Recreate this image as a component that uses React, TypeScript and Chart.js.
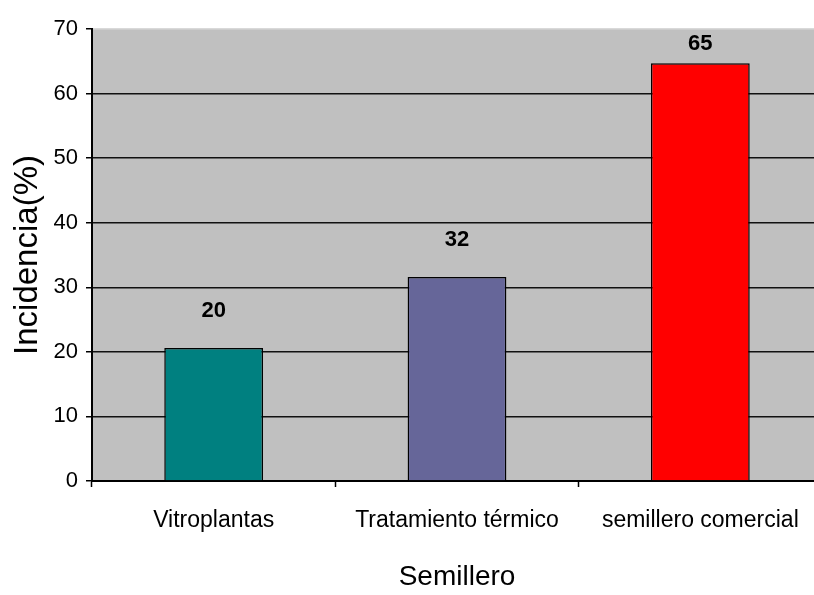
import React, { useEffect, useRef } from "react";
import { Chart, registerables } from "chart.js";

Chart.register(...registerables);

const categories = ["Vitroplantas", "Tratamiento térmico", "semillero comercial"];
const incidence = [20.6, 31.6, 64.7];
const valueLabels = ["20", "32", "65"];
const barColors = ["#008080", "#666699", "#FF0000"];
const yTicks = [0, 10, 20, 30, 40, 50, 60, 70];

const FONT = "'Liberation Sans', Arial, sans-serif";

const bgPlugin = {
  id: "plotBg",
  beforeDraw(chart: any) {
    const { ctx, chartArea } = chart;
    ctx.save();
    ctx.fillStyle = "#C0C0C0";
    ctx.fillRect(chartArea.left, chartArea.top, chartArea.right - chartArea.left, chartArea.bottom - chartArea.top);
    ctx.restore();
  },
};

const labelPlugin = {
  id: "valueLabels",
  afterDatasetsDraw(chart: any) {
    const { ctx } = chart;
    const meta = chart.getDatasetMeta(0);
    ctx.save();
    ctx.font = `bold 22px ${FONT}`;
    ctx.fillStyle = "#000";
    ctx.textAlign = "center";
    ctx.textBaseline = "middle";
    meta.data.forEach((bar: any, i: number) => {
      const y = Math.max(bar.y - 37, 44);
      ctx.fillText(valueLabels[i], bar.x, y);
    });
    ctx.restore();
  },
};

export default function App() {
  const ref = useRef<HTMLCanvasElement>(null);
  useEffect(() => {
    if (!ref.current) return;
    const chart = new Chart(ref.current, {
      type: "bar",
      data: {
        labels: categories,
        datasets: [
          {
            data: incidence,
            backgroundColor: barColors,
            borderColor: "#000",
            borderWidth: 1.5,
            categoryPercentage: 1,
            barPercentage: 0.406,
          },
        ],
      },
      options: {
        responsive: false,
        animation: false,
        layout: { padding: { top: 29, right: 8, left: 0, bottom: 0 } },
        plugins: { legend: { display: false }, tooltip: { enabled: false } },
        scales: {
          x: {
            offset: true,
            grid: {
              offset: true,
              drawOnChartArea: false,
              drawTicks: true,
              tickLength: 6,
              tickColor: "#000",
              tickWidth: 1.5,
            },
            border: { color: "#000", width: 2 },
            ticks: {
              color: "#000",
              font: { family: FONT, size: 23 },
              padding: 20,
              maxRotation: 0,
            },
            title: {
              display: true,
              text: "Semillero",
              color: "#000",
              font: { family: FONT, size: 28 },
              padding: { top: 0, bottom: 1 },
            },
            afterFit(scale: any) {
              scale.height = 595 - 481;
            },
          },
          y: {
            min: 0,
            max: 70,
            afterBuildTicks(scale: any) {
              scale.ticks = yTicks.map((v) => ({ value: v }));
            },
            grid: {
              color: (ctx: any) => (ctx.tick && ctx.tick.value === 70 ? "#d9d9d9" : ctx.tick && ctx.tick.value === 0 ? "rgba(0,0,0,0)" : "#111"),
              lineWidth: 1.5,
              drawTicks: true,
              tickLength: 6,
              tickColor: "#000",
              tickWidth: 1.5,
            },
            border: { color: "#000", width: 2 },
            ticks: {
              color: "#000",
              font: { family: FONT, size: 22 },
              padding: 8,
            },
            title: {
              display: true,
              text: "Incidencia(%)",
              color: "#000",
              font: { family: FONT, size: 33 },
              padding: { top: 8, bottom: 0 },
            },
            afterFit(scale: any) {
              scale.width = 92;
            },
          },
        },
      },
      plugins: [bgPlugin, labelPlugin],
    });
    return () => chart.destroy();
  }, []);

  return (
    <div style={{ position: "absolute", left: 0, top: 0, width: 814, height: 595, overflow: "hidden", background: "#fff" }}>
      <canvas ref={ref} width={830} height={595} style={{ display: "block", width: 830, height: 595 }} />
    </div>
  );
}
